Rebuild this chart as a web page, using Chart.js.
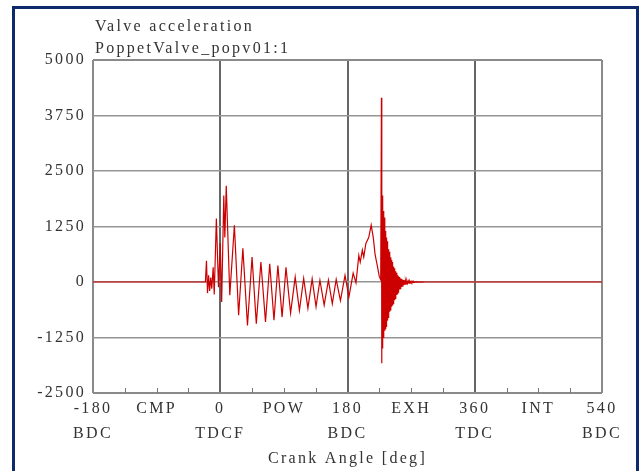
<!DOCTYPE html>
<html>
<head>
<meta charset="utf-8">
<title>Valve acceleration</title>
<script src="https://cdn.jsdelivr.net/npm/chart.js@4.4.1/dist/chart.umd.min.js"></script>
<style>
  html, body { margin: 0; padding: 0; background: #fff; }
  body { width: 643px; height: 471px; position: relative; overflow: hidden; }
  #frame { position: absolute; left: 12px; top: 6px; width: 621px; height: 500px; border: 3px solid #0c2a6c; }
  #wrap { position: absolute; left: 0; top: 0; width: 643px; height: 471px; }
</style>
</head>
<body>
<div id="frame"></div>
<div id="wrap"><canvas id="accelChart" width="643" height="471"></canvas></div>
<script>
// --- data ---
const chartTitle = ['Valve acceleration', 'PoppetValve_popv01:1'];
const axisTitle = 'Crank Angle [deg]';

// x tick labels (two rows: angle / stroke)
const xTickValues  = [-180, -90, 0, 90, 180, 270, 360, 450, 540];
const xTickNumbers = ['-180', 'CMP', '0', 'POW', '180', 'EXH', '360', 'INT', '540'];
const xTickPhases  = ['BDC', '', 'TDCF', '', 'BDC', '', 'TDC', '', 'BDC'];
const yTicks = [-2500, -1250, 0, 1250, 2500, 3750, 5000];

// crank angle [deg]
const crankAngle = [
  -180, -21, -19.5, -18, -16.5, -15, -13.5, -12, -10, -8.5, -5.5, -2.5, 0, 2, 5, 6.5, 8.5, 13.5,
  20, 26, 32, 38.5, 45, 51, 57.5, 64, 70, 76, 81.5, 87.5, 93, 99.5, 106, 112, 118, 124,
  130, 135.5, 141, 147, 153, 158.5, 164, 170, 176.5, 182, 188,
  192, 196, 198, 201, 203, 206, 210, 213.5, 216.5, 219, 222, 225, 227,
  228, 228.5, 229, 229.5, 230, 230.5, 231, 231.5, 232, 232.5, 233, 233.5, 234, 234.5,
  235, 235.5, 236, 236.5, 237, 237.5, 238, 238.5, 239, 239.5, 240, 240.5, 241, 241.5,
  242, 242.5, 243, 243.5, 244, 244.5, 245, 245.5, 246, 246.5, 247, 247.5, 248, 248.5,
  249, 249.5, 250, 250.5, 251, 251.5, 252, 252.5, 253, 253.5, 254, 254.5, 255, 255.5,
  256, 256.5, 257, 257.5, 258, 258.5, 259, 259.5, 260, 260.5, 261, 261.5, 262,
  263, 264, 265, 266, 267, 268, 269, 270, 271, 272, 273, 274, 275, 276, 277, 278, 279, 280,
  282, 284, 286, 288, 290, 540
];
// valve acceleration
const acceleration = [
  0, 0, 480, -250, 150, -200, 100, -150, 330, -280, 1430, -120, 880, -450, 1950, 1000, 2170, -300,
  1280, -750, 760, -980, 560, -940, 450, -900, 410, -860, 370, -790, 330, -700, 110, -640, 80, -590,
  70, -560, 40, -520, 40, -490, 60, -420, 150, -340, 200,
  -20, 600, 450, 720, 560, 870, 1000, 1280, 1000, 620, 380, 120, 50,
  4150, -1830, 1950, -1500, 1850, -1250, 1600, -1150, 1450, -1100, 1250, -1050, 1150, -1000,
  1000, -930, 920, -870, 830, -800, 740, -720, 680, -670, 620, -630, 560, -590,
  500, -560, 450, -530, 400, -490, 350, -450, 310, -410, 270, -370, 240, -330,
  210, -290, 180, -260, 150, -230, 130, -200, 110, -170, 95, -150, 80, -130,
  70, -110, 60, -95, 50, -80, 45, -70, 40, -60, 35, -50, 30,
  -40, 28, -30, 22, -24, 18, -18, 15, -14, 12, -11, 9, -8, 7, -6, 5, -5, 4,
  -3, 3, -2, 1, 0, 0
];

const fontFamily = '"Liberation Serif", "Times New Roman", serif';
const textColor = '#333';

// wide spacing like the original bitmap font
const letterSpacing = {
  id: 'letterSpacing',
  beforeLayout(chart) { chart.ctx.letterSpacing = '2.3px'; },
  beforeDraw(chart) { chart.ctx.letterSpacing = '2.3px'; }
};

// small inner ticks along the bottom edge
const innerTicks = {
  id: 'innerTicks',
  beforeDatasetsDraw(chart) {
    const { ctx, chartArea, scales } = chart;
    ctx.save();
    ctx.strokeStyle = '#777';
    ctx.lineWidth = 1;
    scales.x.ticks.forEach(t => {
      if (t.value % 180 === 0) return;
      const px = Math.round(scales.x.getPixelForValue(t.value)) + 0.5;
      ctx.beginPath();
      ctx.moveTo(px, chartArea.bottom);
      ctx.lineTo(px, chartArea.bottom - 5);
      ctx.stroke();
    });
    ctx.restore();
  }
};

// two-line title, left aligned with the plot
const leftTitle = {
  id: 'leftTitle',
  afterDraw(chart) {
    const { ctx, chartArea } = chart;
    ctx.save();
    ctx.font = '16px ' + fontFamily;
    ctx.fillStyle = textColor;
    ctx.textAlign = 'left';
    ctx.textBaseline = 'alphabetic';
    ctx.fillText(chartTitle[0], chartArea.left + 2, chartArea.top - 29);
    ctx.fillText(chartTitle[1], chartArea.left + 2, chartArea.top - 7);
    ctx.restore();
  }
};

const points = crankAngle.map((a, i) => ({ x: a, y: acceleration[i] }));

new Chart(document.getElementById('accelChart'), {
  type: 'line',
  data: {
    datasets: [{
      data: points,
      borderColor: '#cc0000',
      borderWidth: 1.2,
      pointRadius: 0,
      tension: 0,
      fill: false
    }]
  },
  options: {
    responsive: false,
    animation: false,
    layout: { padding: { top: 60, right: 41, bottom: 0, left: 0 } },
    plugins: {
      legend: { display: false },
      tooltip: { enabled: false }
    },
    scales: {
      x: {
        type: 'linear',
        min: xTickValues[0],
        max: xTickValues[xTickValues.length - 1],
        border: { display: false },
        grid: {
          drawTicks: false,
          color: c => {
            const v = c.tick.value;
            if (v === -180 || v === 540) return '#8a8a8a';
            return v % 180 === 0 ? '#666' : 'rgba(0,0,0,0)';
          },
          lineWidth: 2
        },
        ticks: {
          stepSize: 45,
          autoSkip: false,
          maxRotation: 0,
          padding: 3,
          color: textColor,
          font: { family: fontFamily, size: 16, lineHeight: 1.56 },
          callback: value => {
            const i = xTickValues.indexOf(value);
            if (i < 0) return '';
            return xTickPhases[i] ? [xTickNumbers[i], xTickPhases[i]] : xTickNumbers[i];
          }
        },
        title: {
          display: true,
          text: axisTitle,
          color: textColor,
          font: { family: fontFamily, size: 16 },
          padding: { top: 0, bottom: 3 }
        },
        afterFit: scale => { scale.height = 78; }
      },
      y: {
        min: yTicks[0],
        max: yTicks[yTicks.length - 1],
        border: { display: false },
        grid: {
          drawTicks: false,
          color: c => (c.tick.value === 5000 || c.tick.value === -2500) ? '#8a8a8a' : '#959595',
          lineWidth: c => (c.tick.value === 5000 || c.tick.value === -2500) ? 2 : 1.5
        },
        afterBuildTicks: scale => { scale.ticks = yTicks.map(v => ({ value: v })); },
        ticks: {
          padding: 7,
          color: textColor,
          font: { family: fontFamily, size: 16 },
          callback: value => String(value)
        },
        afterFit: scale => { scale.width = 93; }
      }
    }
  },
  plugins: [letterSpacing, innerTicks, leftTitle]
});
</script>
</body>
</html>
